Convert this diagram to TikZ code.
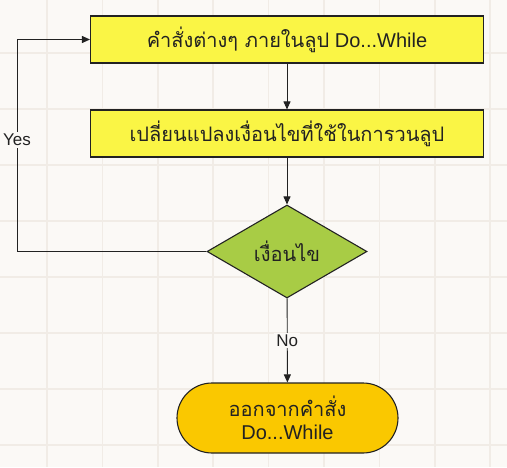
\documentclass[tikz,border=0pt]{standalone}
\usepackage{fontspec}
\setmainfont{Liberation Sans}
\newfontfamily\thaifont[Script=Thai]{Loma}
\usetikzlibrary{shapes.geometric,arrows.meta}
\definecolor{bgcol}{HTML}{FBF9F6}
\definecolor{gridcol}{HTML}{F1ECE6}
\definecolor{procfill}{HTML}{FAF545}
\definecolor{decfill}{HTML}{A8CC45}
\definecolor{termfill}{HTML}{FAC800}
\definecolor{inkcol}{HTML}{222222}
\tikzset{
  base/.style={draw=inkcol, line width=1.1pt, text=inkcol, font=\fontsize{20}{23}\selectfont, inner sep=0pt},
  procbox/.style={base, rectangle, fill=procfill, minimum width=393pt, minimum height=47pt},
  decision/.style={base, diamond, fill=decfill, minimum width=160pt, minimum height=93pt},
  terminal/.style={base, rectangle, rounded corners=35pt, fill=termfill, minimum width=221pt, minimum height=70pt, align=center},
  arr/.style={draw=inkcol, line width=0.9pt, -{Triangle[length=8pt,width=7pt]}},
  lbl/.style={fill=bgcol, text=inkcol, font=\fontsize{17}{20}\selectfont, inner sep=2pt}
}
\begin{document}
\begin{tikzpicture}[x=1pt,y=-1pt]
\fill[bgcol] (0,0) rectangle (507,467);
\useasboundingbox (0,0) rectangle (507,467);
\foreach \i in {0,...,8} {
  \draw[gridcol, line width=1.5pt] ({47+55.4*\i},0) -- ({47+55.4*\i},467);
}
\foreach \j in {0,...,8} {
  \draw[gridcol, line width=1.5pt] (0,{-3+56*\j}) -- (507,{-3+56*\j});
}
\node[procbox] (b1) at (287,39.5) {{\thaifont คำสั่งต่างๆ ภายในลูป} Do...While};
\node[procbox] (b2) at (287,133.5) {\thaifont เปลี่ยนแปลงเงื่อนไขที่ใช้ในการวนลูป};
\node[decision] (d) at (287,251.5) {\thaifont เงื่อนไข};
\node[terminal] (t) at (287.5,418) {{\thaifont ออกจากคำสั่ง}\\Do...While};
\coordinate (lp) at (17,251.5);
\draw[arr] (b1) -- (b2);
\draw[arr] (b2) -- (d);
\draw[arr] (d) -- node[lbl] {No} (t);
\draw[arr] (d.west) -- (lp) |- node[lbl, pos=0.263] {Yes} (b1.west);
\end{tikzpicture}
\end{document}
